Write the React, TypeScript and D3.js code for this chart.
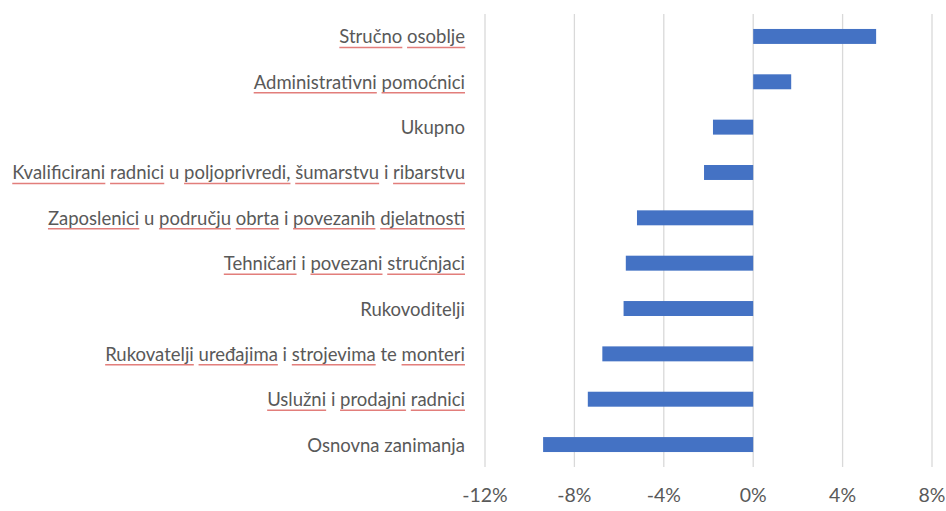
import * as d3 from 'd3';
import React, { useLayoutEffect, useRef, useState } from 'react';

const width = 946;
const height = 511;
const margin = { top: 14, right: 14, bottom: 44, left: 485 };

// word lists, '*' marks a word the spell checker underlined
const categories: string[][] = [
  ['*Stručno', '*osoblje'],
  ['*Administrativni', '*pomoćnici'],
  ['Ukupno'],
  ['*Kvalificirani', '*radnici', 'u', '*poljoprivredi,', '*šumarstvu', 'i', '*ribarstvu'],
  ['*Zaposlenici', 'u', '*području', '*obrta', 'i', '*povezanih', '*djelatnosti'],
  ['*Tehničari', 'i', '*povezani', '*stručnjaci'],
  ['Rukovoditelji'],
  ['*Rukovatelji', '*uređajima', 'i', '*strojevima', 'te', '*monteri'],
  ['*Uslužni', 'i', '*prodajni', '*radnici'],
  ['Osnovna', 'zanimanja'],
];
const values = [5.5, 1.7, -1.8, -2.2, -5.2, -5.7, -5.8, -6.75, -7.4, -9.4];
const ticks = [-12, -8, -4, 0, 4, 8];

interface IUnderline {
  x: number;
  y: number;
  w: number;
}

export default function App() {
  const labelsRef = useRef<SVGGElement>(null);
  const [lines, setLines] = useState<IUnderline[]>([]);

  const x = d3
    .scaleLinear()
    .domain([-12, 8])
    .range([margin.left, width - margin.right]);
  const y = d3
    .scaleBand<number>()
    .domain(d3.range(categories.length))
    .range([margin.top, height - margin.bottom])
    .paddingInner(0.67)
    .paddingOuter(0.33);

  useLayoutEffect(() => {
    if (!labelsRef.current) return;
    const found: IUnderline[] = [];
    labelsRef.current.querySelectorAll<SVGTSpanElement>('tspan[data-ul]').forEach(t => {
      const b = t.getBBox();
      found.push({ x: b.x, y: b.y + b.height, w: b.width });
    });
    setLines(found);
  }, []);

  return (
    <svg
      width={width}
      height={height}
      style={{ position: 'absolute', left: 0, top: 0, background: '#fff' }}
      fontFamily="Lato, 'Open Sans', sans-serif"
    >
      <g>
        {ticks.map(t => (
          <line key={t} x1={x(t)} x2={x(t)} y1={margin.top} y2={height - margin.bottom} stroke="#d9d9d9" strokeWidth={1.3} />
        ))}
      </g>
      <g>
        {values.map((v, i) => (
          <rect
            key={i}
            x={x(Math.min(0, v))}
            y={y(i)}
            width={Math.abs(x(v) - x(0))}
            height={y.bandwidth()}
            fill="#4472c4"
          />
        ))}
      </g>
      <g ref={labelsRef} fill="#595959" fontSize={18.5}>
        {categories.map((words, i) => (
          <text key={i} x={465} y={(y(i) as number) + y.bandwidth() / 2} textAnchor="end" dominantBaseline="central">
            {words.map((w, j) => {
              const ul = w.startsWith('*');
              const word = ul ? w.slice(1) : w;
              return (
                <React.Fragment key={j}>
                  {j > 0 ? ' ' : null}
                  <tspan data-ul={ul ? '1' : undefined}>{word}</tspan>
                </React.Fragment>
              );
            })}
          </text>
        ))}
      </g>
      <g stroke="#d9534f" strokeWidth={1.5} opacity={0.75}>
        {lines.map((l, i) => (
          <line key={i} x1={l.x} x2={l.x + l.w} y1={l.y} y2={l.y} />
        ))}
      </g>
      <g fill="#595959" fontSize={19.5} textAnchor="middle">
        {ticks.map(t => (
          <text key={t} x={x(t)} y={height - 9}>
            {`${t}%`}
          </text>
        ))}
      </g>
    </svg>
  );
}
